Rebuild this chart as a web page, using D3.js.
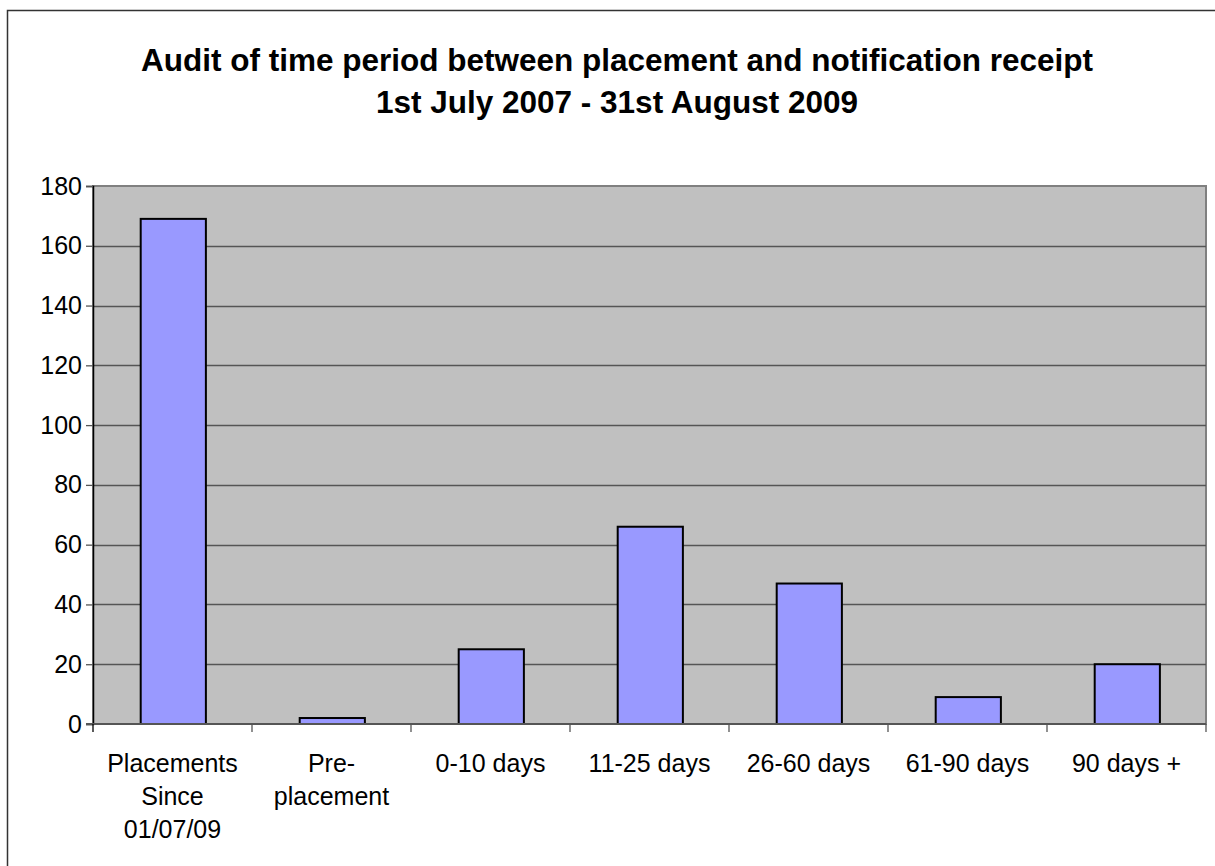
<!DOCTYPE html>
<html>
<head>
<meta charset="utf-8">
<script src="https://d3js.org/d3.v7.min.js"></script>
<style>
  body { margin: 0; background: #fff; }
  text { font-family: "Liberation Sans", Arial, sans-serif; }
</style>
</head>
<body>
<div id="chart"></div>
<script>
// data
var categories = [["Placements", "Since", "01/07/09"], ["Pre-", "placement"], ["0-10 days"],
                  ["11-25 days"], ["26-60 days"], ["61-90 days"], ["90 days +"]];
var values = [169, 2, 25, 66, 47, 9, 20];
var yTicks = [0, 20, 40, 60, 80, 100, 120, 140, 160, 180];
var titleLines = ["Audit of time period between placement and notification receipt",
                  "1st July 2007 - 31st August 2009"];

var width = 1215, height = 866;
var plot = {left: 93, right: 1206, top: 186, bottom: 724};

var svg = d3.select("#chart").append("svg")
    .attr("width", width)
    .attr("height", height);

// outer chart frame
svg.append("rect")
    .attr("x", 7.5).attr("y", 10.5)
    .attr("width", 1230).attr("height", 900)
    .attr("fill", "none")
    .attr("stroke", "#333")
    .attr("stroke-width", 1.5);

// title
svg.append("g").selectAll("text")
    .data(titleLines)
    .enter().append("text")
    .attr("x", 617)
    .attr("y", function(d, i) { return 71 + i * 42; })
    .attr("text-anchor", "middle")
    .style("font-weight", "bold")
    .style("font-size", "31.5px")
    .text(function(d) { return d; });

var band = (plot.right - plot.left) / categories.length;

var y = d3.scaleLinear()
    .domain([0, 180])
    .range([plot.bottom, plot.top]);

// plot background
svg.append("rect")
    .attr("x", plot.left).attr("y", plot.top)
    .attr("width", plot.right - plot.left)
    .attr("height", plot.bottom - plot.top)
    .attr("fill", "#c0c0c0")
    .attr("stroke", "#808080")
    .attr("stroke-width", 2);

// gridlines
svg.append("g").selectAll("line")
    .data(yTicks.slice(1, -1))
    .enter().append("line")
    .attr("x1", plot.left).attr("x2", plot.right)
    .attr("y1", function(d) { return Math.round(y(d)) + 0.5; })
    .attr("y2", function(d) { return Math.round(y(d)) + 0.5; })
    .attr("stroke", "#555")
    .attr("stroke-width", 1.3);

// bars
svg.append("g").selectAll("rect")
    .data(values)
    .enter().append("rect")
    .attr("x", function(d, i) { return plot.left + band * i + band * 0.3; })
    .attr("width", band * 0.41)
    .attr("y", function(d) { return y(d); })
    .attr("height", function(d) { return y(0) - y(d); })
    .attr("fill", "#9999ff")
    .attr("stroke", "#000")
    .attr("stroke-width", 2);

// y axis
var yAxis = svg.append("g")
    .attr("transform", "translate(" + plot.left + ",0)")
    .call(d3.axisLeft(y).tickValues(yTicks).tickSize(7).tickPadding(4));
yAxis.select(".domain").attr("stroke", "#000").attr("stroke-width", 1.5);
yAxis.selectAll(".tick line").attr("stroke", "#555").attr("stroke-width", 1.3);
yAxis.selectAll(".tick text")
    .style("font-size", "25px")
    .style("font-family", "'Liberation Sans', Arial, sans-serif")
    .attr("fill", "#000");

// x axis line and ticks at category boundaries
var xTicks = d3.range(categories.length + 1).map(function(i) { return plot.left + band * i; });
svg.append("line")
    .attr("x1", plot.left - 7).attr("x2", plot.right)
    .attr("y1", plot.bottom).attr("y2", plot.bottom)
    .attr("stroke", "#555").attr("stroke-width", 2);
svg.append("g").selectAll("line")
    .data(xTicks)
    .enter().append("line")
    .attr("x1", function(d) { return d; }).attr("x2", function(d) { return d; })
    .attr("y1", plot.bottom).attr("y2", plot.bottom + 8)
    .attr("stroke", function(d, i) { return i === 0 ? "#000" : "#555"; })
    .attr("stroke-width", 1.3);

// category labels
var cat = svg.append("g").selectAll("text")
    .data(categories)
    .enter().append("text")
    .attr("text-anchor", "middle")
    .style("font-size", "25px")
    .attr("x", function(d, i) { return plot.left + band * (i + 0.5); })
    .attr("y", 772);
cat.selectAll("tspan")
    .data(function(d) { return d; })
    .enter().append("tspan")
    .attr("x", function() { return d3.select(this.parentNode).attr("x"); })
    .attr("dy", function(d, i) { return i === 0 ? 0 : 33; })
    .text(function(d) { return d; });
</script>
</body>
</html>
